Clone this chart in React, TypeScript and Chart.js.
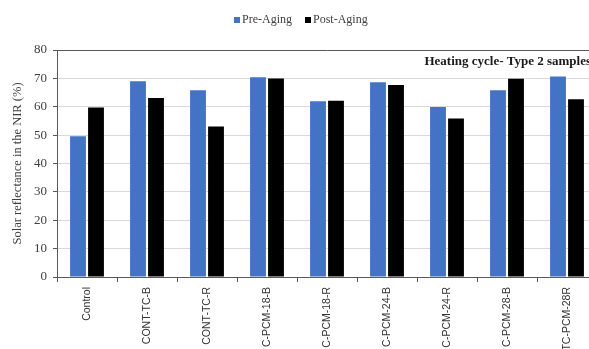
import React, { useEffect, useRef } from "react";
import { Chart, registerables } from "chart.js";

Chart.register(...registerables);

const categories = [
  "Control",
  "CONT-TC-B",
  "CONT-TC-R",
  "C-PCM-18-B",
  "C-PCM-18-R",
  "C-PCM-24-B",
  "C-PCM-24-R",
  "C-PCM-28-B",
  "TC-PCM-28R",
];
const preAging = [49.6, 69.0, 65.8, 70.4, 61.9, 68.6, 59.9, 65.8, 70.7];
const postAging = [59.7, 63.1, 53.0, 70.0, 62.1, 67.7, 55.9, 69.9, 62.6];
const seriesNames = ["Pre-Aging", "Post-Aging"];
const yMin = 0;
const yMax = 80;
const yStep = 10;
const chartTitle = "Heating cycle- Type 2 samples";
const yAxisTitle = "Solar reflectance in the NIR (%)";

const CANVAS_W = 610;
const CANVAS_H = 372;

const overlayPlugin = {
  id: "overlay",
  afterDraw(chart: any) {
    const ctx = chart.ctx;
    const { left, right, top, bottom } = chart.chartArea;
    ctx.save();
    // plot border (top + right)
    ctx.strokeStyle = "#595959";
    ctx.lineWidth = 1;
    ctx.beginPath();
    ctx.moveTo(Math.round(left), Math.round(top) + 0.5);
    ctx.lineTo(Math.round(right) + 0.5, Math.round(top) + 0.5);
    ctx.lineTo(Math.round(right) + 0.5, Math.round(bottom));
    ctx.stroke();

    // legend
    ctx.font = '12px "Liberation Serif"';
    ctx.textBaseline = "middle";
    ctx.textAlign = "left";
    let x = 234;
    const y = 20;
    chart.data.datasets.forEach((ds: any) => {
      ctx.fillStyle = ds.backgroundColor;
      ctx.fillRect(x, y - 3, 6, 6);
      x += 8;
      ctx.fillStyle = "#404040";
      ctx.fillText(ds.label, x, y);
      x += ctx.measureText(ds.label).width + 13;
    });

    // in-plot title
    ctx.font = 'bold 13px "Liberation Serif"';
    ctx.textAlign = "right";
    ctx.fillStyle = "#1a1a1a";
    ctx.fillText(chartTitle, right - 6, top + 12);
    ctx.restore();
  },
};

export default function App() {
  const ref = useRef<HTMLCanvasElement | null>(null);

  useEffect(() => {
    if (!ref.current) return;
    const chart = new Chart(ref.current, {
      type: "bar",
      data: {
        labels: categories,
        datasets: [
          {
            label: seriesNames[0],
            data: preAging,
            backgroundColor: "#4472C4",
            categoryPercentage: 0.6,
            barPercentage: 0.88,
          },
          {
            label: seriesNames[1],
            data: postAging,
            backgroundColor: "#000000",
            categoryPercentage: 0.6,
            barPercentage: 0.88,
          },
        ],
      },
      options: {
        responsive: false,
        animation: false,
        devicePixelRatio: 1,
        layout: { padding: { top: 50, right: 13, left: 0, bottom: 0 } },
        plugins: {
          legend: { display: false },
          tooltip: { enabled: false },
        },
        scales: {
          x: {
            grid: {
              offset: true,
              drawOnChartArea: false,
              drawTicks: true,
              tickLength: 5,
              tickColor: "#595959",
            },
            border: { color: "#595959", width: 1 },
            ticks: {
              minRotation: 90,
              maxRotation: 90,
              autoSkip: false,
              padding: 5,
              color: "#333333",
              font: { family: '"Liberation Sans"', size: 10.5 },
            },
            afterFit(scale: any) {
              scale.height = CANVAS_H - 277;
            },
          },
          y: {
            min: yMin,
            max: yMax,
            ticks: {
              stepSize: yStep,
              padding: 6,
              color: "#404040",
              font: { family: '"Liberation Serif"', size: 13 },
            },
            grid: {
              color: "#d9d9d9",
              tickColor: "#595959",
              tickLength: 4,
            },
            border: { color: "#595959", width: 1 },
            title: {
              display: true,
              text: yAxisTitle,
              color: "#404040",
              font: { family: '"Liberation Serif"', size: 12.5 },
              padding: { top: 10, bottom: 0 },
            },
            afterFit(scale: any) {
              scale.width = 57;
            },
          },
        },
      },
      plugins: [overlayPlugin],
    });
    return () => chart.destroy();
  }, []);

  return (
    <div
      style={{
        position: "fixed",
        left: 0,
        top: 0,
        width: 589,
        height: 349,
        overflow: "hidden",
        background: "#ffffff",
      }}
    >
      <canvas
        ref={ref}
        width={CANVAS_W}
        height={CANVAS_H}
        style={{ width: CANVAS_W, height: CANVAS_H, display: "block" }}
      />
    </div>
  );
}
